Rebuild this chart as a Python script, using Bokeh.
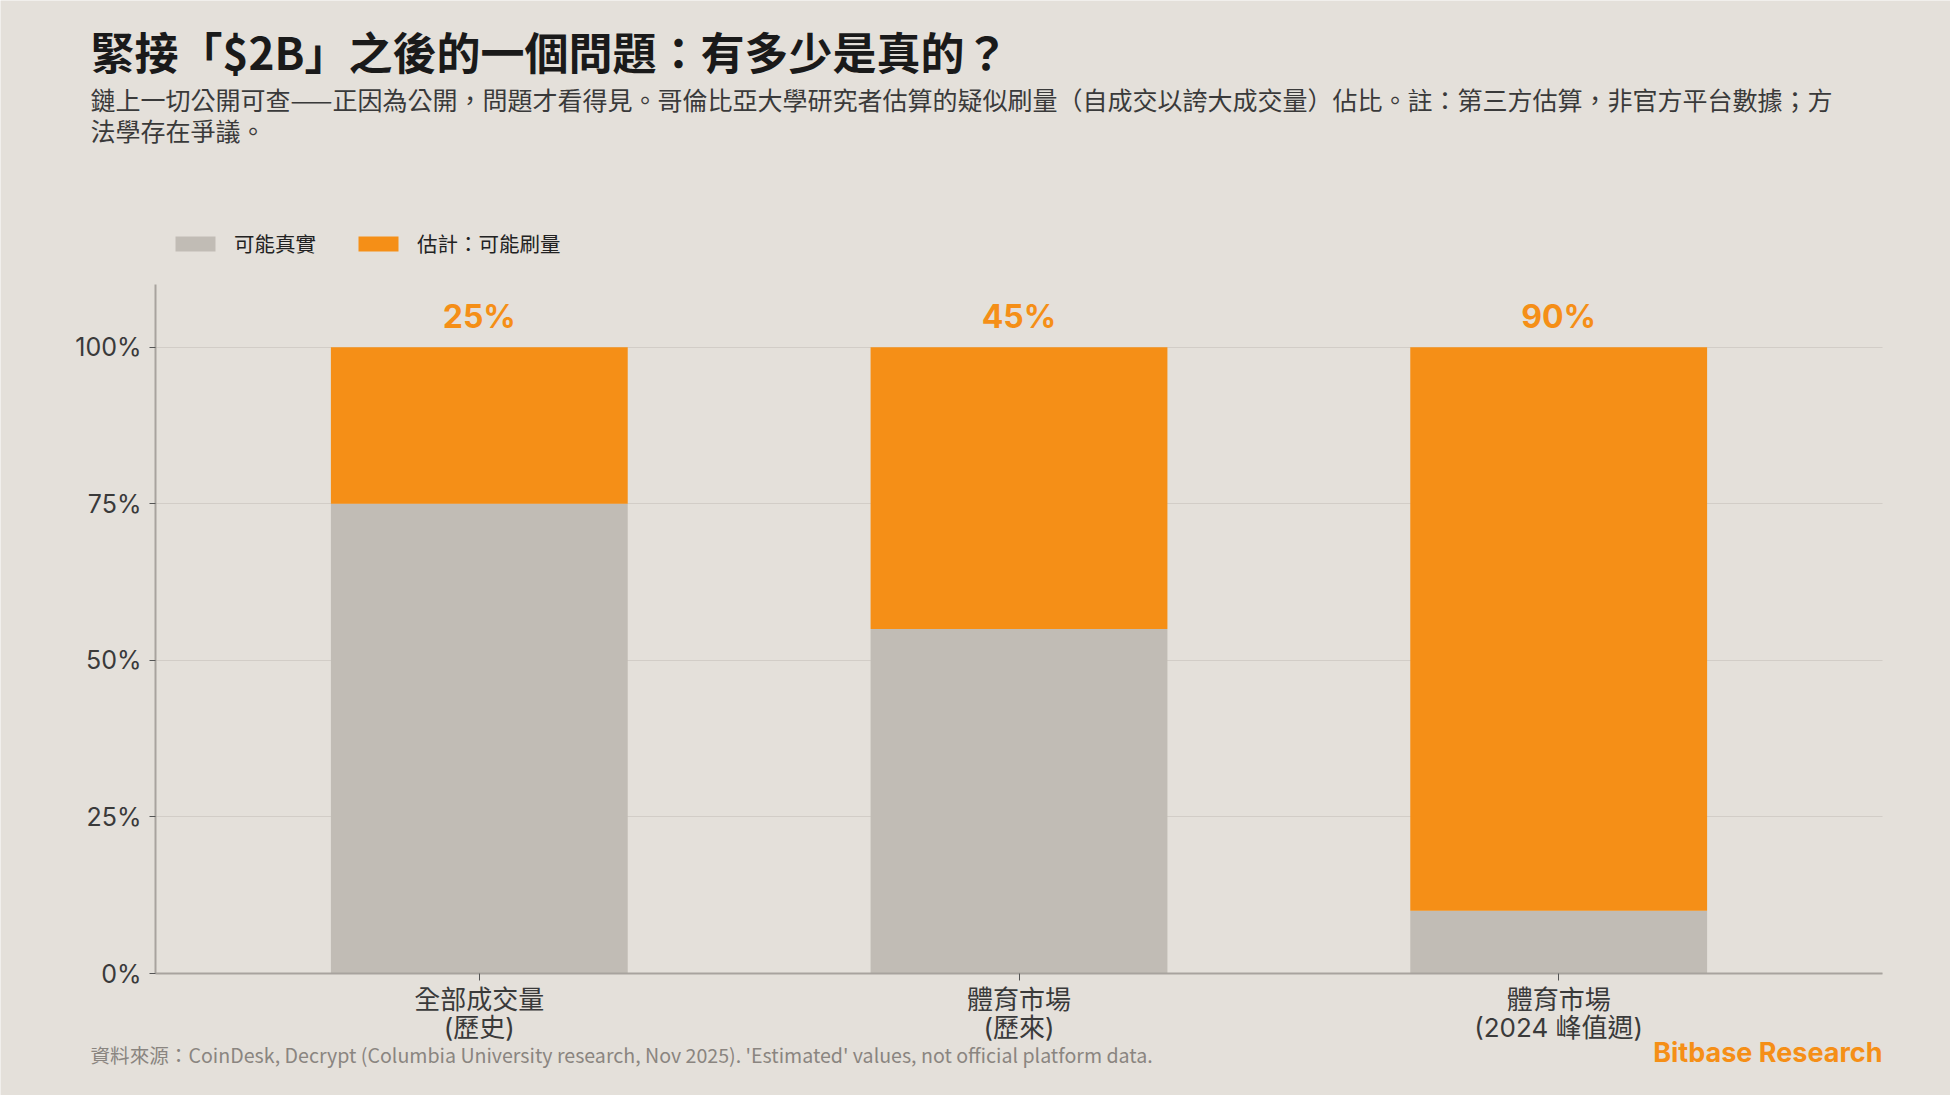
from bokeh.plotting import figure
from bokeh.models import (ColumnDataSource, Range1d, FixedTicker, Label, Legend,
                          LegendItem, PrintfTickFormatter, Grid)
from bokeh.embed import file_html
from bokeh.resources import INLINE
from bokeh.core.properties import value

# ---- data ----
categories = ["全部成交量\n(歷史)", "體育市場\n(歷來)", "體育市場\n(2024 峰值週)"]
likely_real = [75, 55, 10]
est_wash = [25, 45, 90]
y_ticks = [0, 25, 50, 75, 100]
series_names = ["可能真實", "估計：可能刷量"]

title_text = "緊接「$2B」之後的一個問題：有多少是真的？"
subtitle_1 = "鏈上一切公開可查——正因為公開，問題才看得見。哥倫比亞大學研究者估算的疑似刷量（自成交以誇大成交量）佔比。註：第三方估算，非官方平台數據；方"
subtitle_2 = "法學存在爭議。"
footer_text = "資料來源：CoinDesk, Decrypt (Columbia University research, Nov 2025). 'Estimated' values, not official platform data."
brand_text = "Bitbase Research"

# ---- style / layout ----
BG = "#e4e0da"
GREY = "#c1bcb5"
ORANGE = "#f58f17"
CJK = "Noto Sans CJK TC"
MIX = "Inter, 'Noto Sans CJK TC'"
W, H = 1950, 1095
# plot area in page pixels
PL, PR, PT, PB = 155, 1882, 284, 973
X_LO, X_HI = -0.6, len(categories) - 0.4
Y_LO, Y_HI = 0, 110

kx = (PR - PL) / (X_HI - X_LO)
ky = (PB - PT) / (Y_HI - Y_LO)
x_range = Range1d(X_LO - PL / kx, X_HI + (W - PR) / kx)
y_range = Range1d(Y_LO - (H - PB) / ky, Y_HI + PT / ky)

xs = list(range(len(categories)))
src = ColumnDataSource(dict(
    x=xs,
    real=likely_real,
    wash=est_wash,
    top=[a + b for a, b in zip(likely_real, est_wash)],
    label=[f"{v}%" for v in est_wash],
))

p = figure(width=W, height=H, x_range=x_range, y_range=y_range,
           output_backend="svg", toolbar_location=None,
           min_border=0, min_border_left=0, min_border_right=0,
           min_border_top=0, min_border_bottom=0)
p.title.visible = False
p.background_fill_color = BG
p.border_fill_color = BG
p.outline_line_color = None

rs = p.vbar_stack(["real", "wash"], x="x", width=0.55, color=[GREY, ORANGE],
                  line_color=None, source=src)

p.text(x="x", y="top", text="label", source=src, text_align="center",
       text_baseline="middle", y_offset=-31, text_color=ORANGE,
       text_font=value("Inter"), text_font_style="bold", text_font_size="32px")

# axes (pinned to the plot area)
xa = p.xaxis[0]
xa.fixed_location = Y_LO
xa.bounds = (X_LO, X_HI)
xa.ticker = FixedTicker(ticks=xs)
xa.major_label_overrides = {i: c for i, c in zip(xs, categories)}
xa.major_label_text_font = MIX
xa.major_label_text_font_size = "26px"
xa.major_label_text_line_height = 0.92
xa.major_label_text_color = "#3a3a3a"
xa.major_label_standoff = 3
xa.axis_line_color = "#a8a39e"
xa.axis_line_width = 2
xa.major_tick_line_color = "#555555"
xa.major_tick_out = 7
xa.major_tick_in = 0
xa.minor_tick_line_color = None

ya = p.yaxis[0]
ya.fixed_location = X_LO
ya.bounds = (Y_LO, Y_HI)
ya.ticker = FixedTicker(ticks=y_ticks)
ya.formatter = PrintfTickFormatter(format="%d%%")
ya.major_label_text_font = MIX
ya.major_label_text_font_size = "25px"
ya.major_label_text_color = "#3a3a3a"
ya.major_label_standoff = 8
ya.axis_line_color = "#a8a39e"
ya.axis_line_width = 2
ya.major_tick_line_color = "#555555"
ya.major_tick_out = 6
ya.major_tick_in = 0
ya.minor_tick_line_color = None

p.xgrid.visible = False
yg = p.ygrid[0]
yg.ticker = FixedTicker(ticks=y_ticks)
yg.bounds = (Y_LO, Y_HI)
if "cross_bounds" in Grid.properties():
    yg.cross_bounds = (X_LO, X_HI)
yg.grid_line_color = "#d2cdc7"
yg.grid_line_width = 1

# legend
legend = Legend(items=[LegendItem(label=series_names[0], renderers=[rs[0]]),
                       LegendItem(label=series_names[1], renderers=[rs[1]])],
                orientation="horizontal", location=(170, H - 258),
                background_fill_alpha=0, border_line_alpha=0,
                padding=0, margin=0, spacing=37, label_standoff=14,
                glyph_width=50, glyph_height=19,
                label_text_font=CJK, label_text_font_size="20.5px",
                label_text_color="#222222")
p.add_layout(legend)

# texts (screen units: from the page's bottom-left)
def add_label(text, x, y, size, color, style="normal", align="left", font=CJK):
    p.add_layout(Label(x=x, y=H - y, x_units="screen", y_units="screen", text=text,
                       text_font=font, text_font_size=size, text_font_style=style,
                       text_color=color, text_align=align, text_baseline="middle"))

add_label(title_text, 90, 50, "44px", "#1a1a1a", "bold")
add_label(subtitle_1, 90, 98.5, "25px", "#3a3a3a")
add_label(subtitle_2, 90, 129.5, "25px", "#3a3a3a")
add_label(footer_text, 90, 1054, "19.6px", "#8a8580")
add_label(brand_text, PR, 1052, "27px", ORANGE, "bold", "right", "Inter")

open("out.html", "w").write(file_html(p, INLINE))
